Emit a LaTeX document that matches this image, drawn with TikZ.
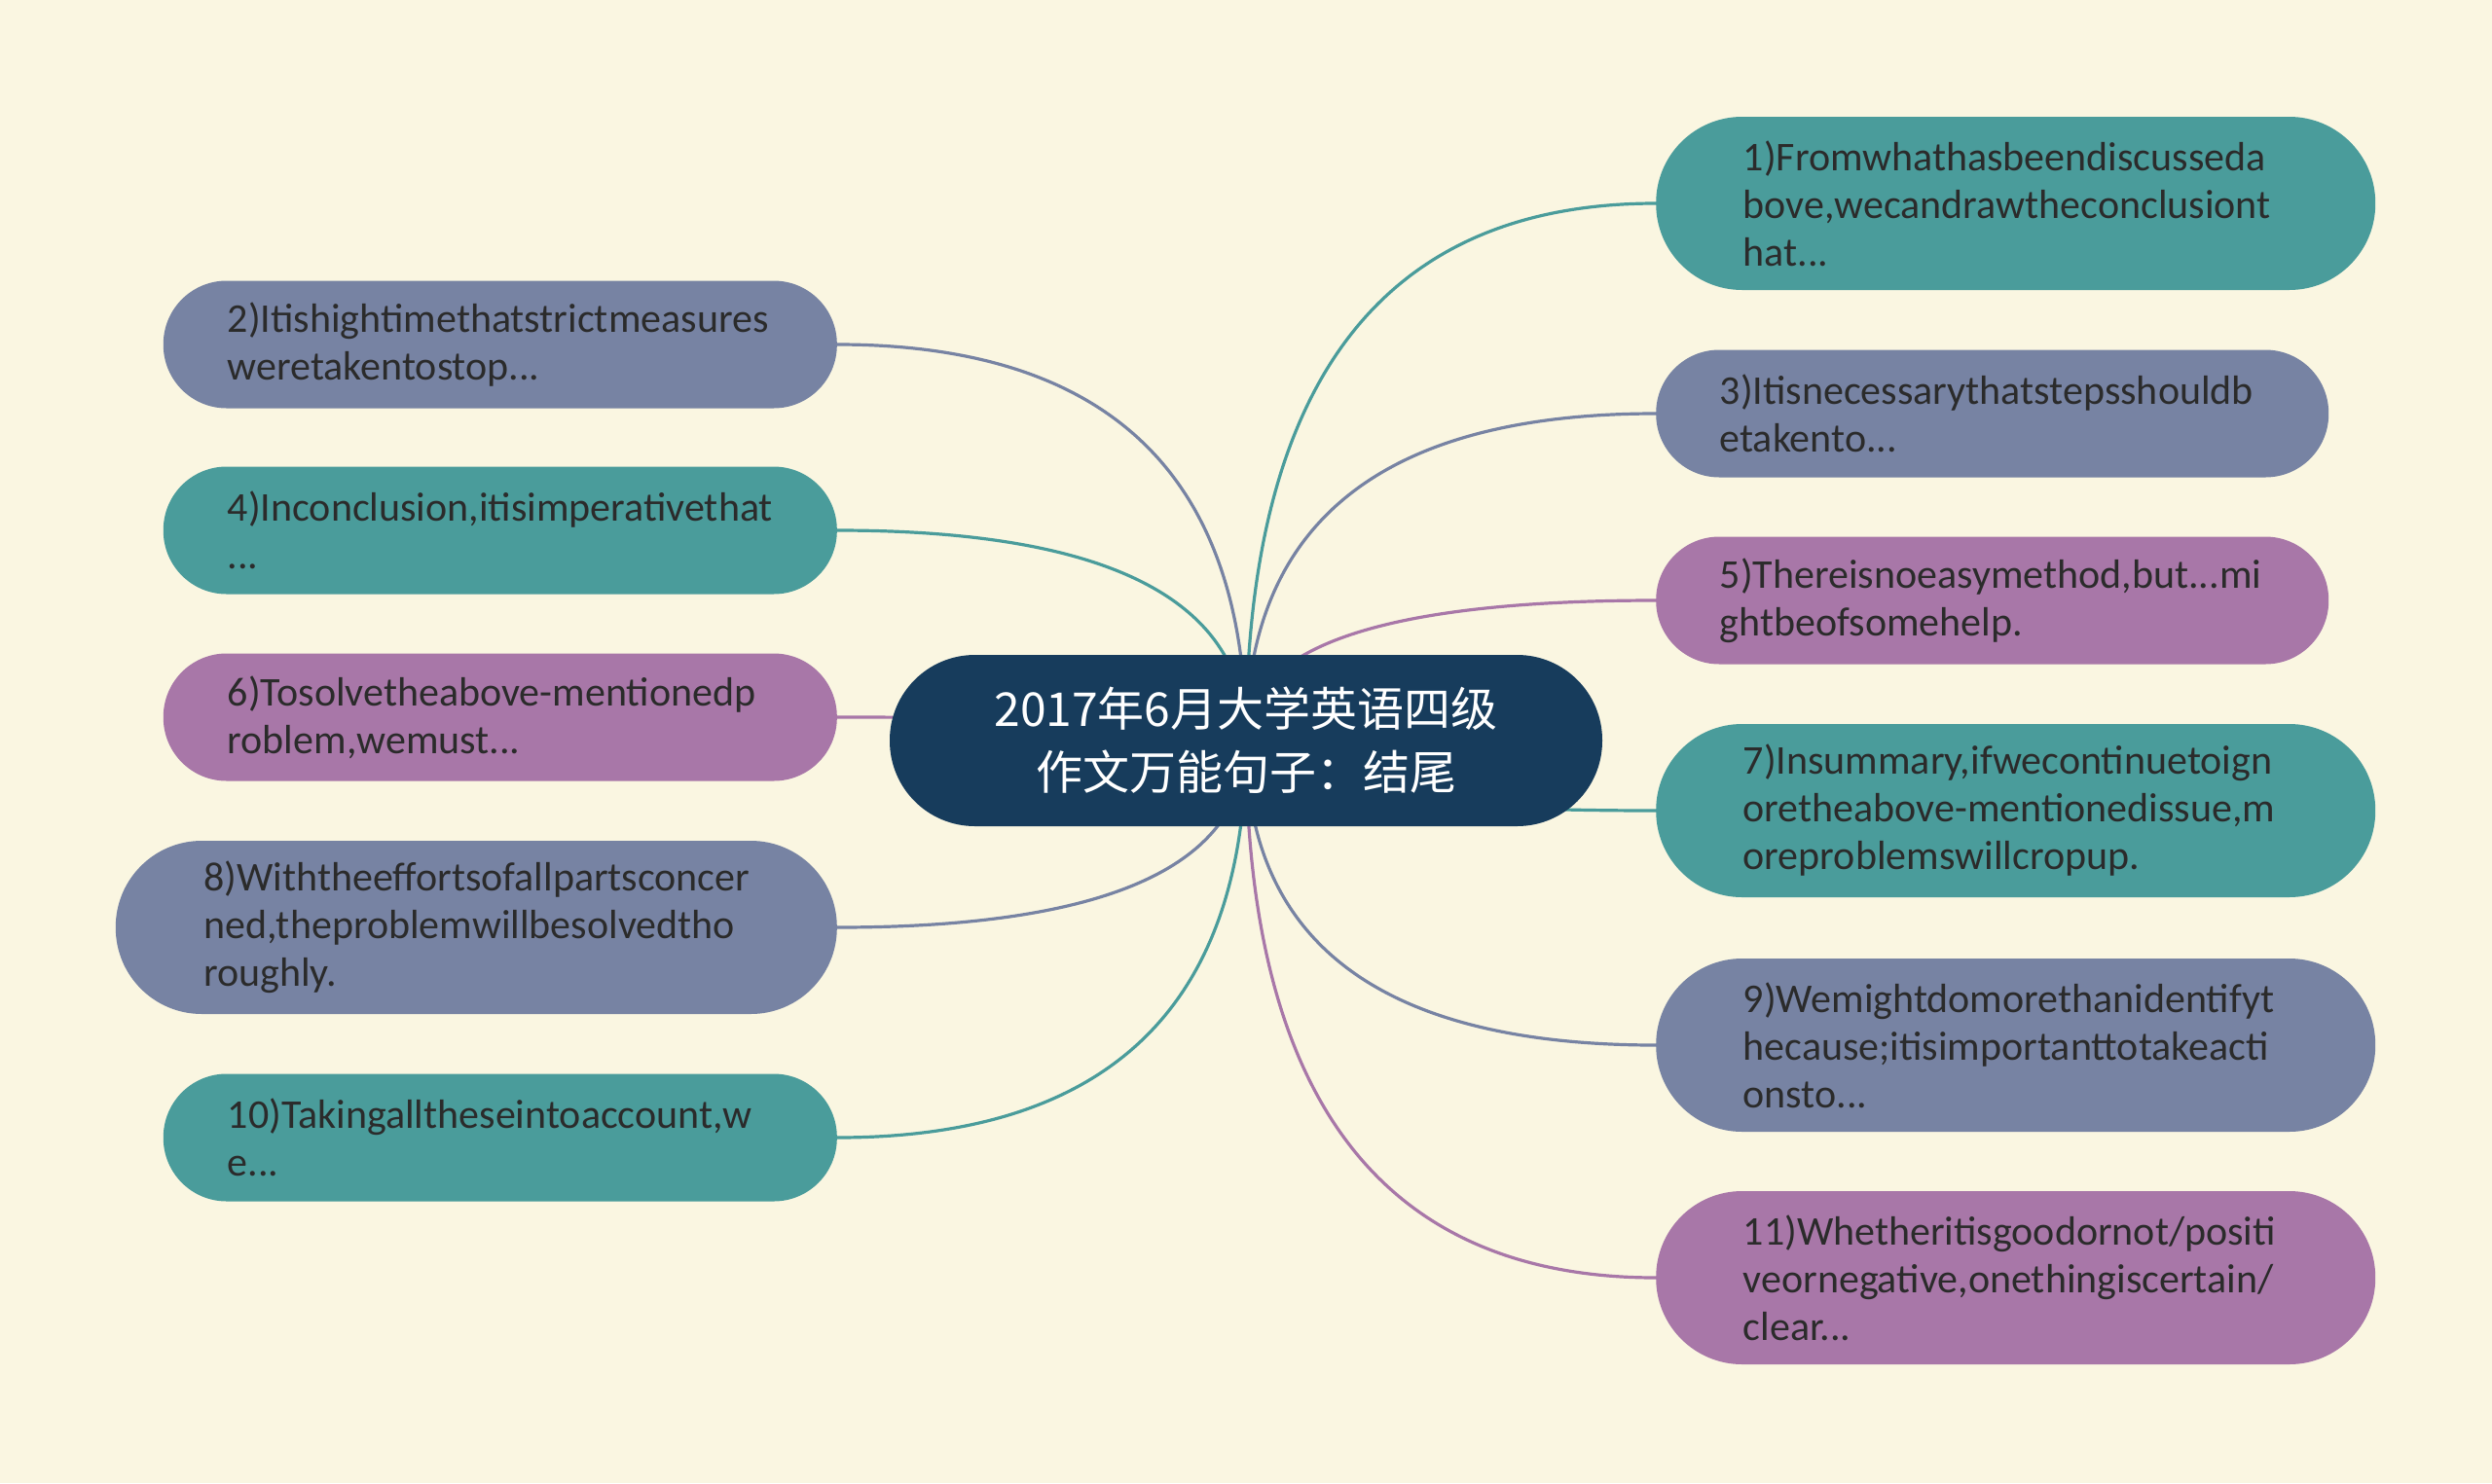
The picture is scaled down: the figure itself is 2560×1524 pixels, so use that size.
\documentclass[tikz,border=0pt]{standalone}
\usepackage{fontspec}
\setmainfont{Carlito}
\newfontfamily\cjkfont{Noto Sans CJK SC}
\usetikzlibrary{calc}
\pgfdeclarelayer{bglayer}
\pgfdeclarelayer{linelayer}
\pgfsetlayers{bglayer,linelayer,main}
\definecolor{bgc}{HTML}{FAF6E1}
\definecolor{tealc}{HTML}{4A9C9B}
\definecolor{slatec}{HTML}{7783A3}
\definecolor{purplec}{HTML}{A877A8}
\definecolor{navyc}{HTML}{173C5C}
\definecolor{txtc}{HTML}{2B2B2B}
\tikzset{
  leaf/.style={rectangle, text width=560pt, align=left, inner xsep=0pt, inner ysep=0pt,
    font=\fontsize{42}{49}\selectfont, text=txtc},
  shortbox/.style={leaf, minimum height=131pt, rounded corners=65pt},
  tallbox/.style={leaf, minimum height=178pt, rounded corners=88.5pt},
  tealbox/.style={fill=tealc},
  slatebox/.style={fill=slatec},
  purplebox/.style={fill=purplec},
  link/.style={line width=3.2pt},
  centerbox/.style={rectangle, fill=navyc, text=white, align=center,
    minimum width=732pt, minimum height=176pt, rounded corners=87.5pt,
    font=\cjkfont\fontsize{48}{65}\selectfont}
}
% quadratic-like curve from node centre to an anchor
\newcommand{\quadlink}[3]{%
  \draw[link, draw=#1] (#2) .. controls ($(#2)!0.667!(#2 |- #3)$) and ($(#3)!0.667!(#2 |- #3)$) .. (#3);}
\begin{document}
\begin{tikzpicture}[x=1pt,y=-1pt]
\begin{pgfonlayer}{bglayer}
\fill[bgc] (0,0) rectangle (2560,1524);
\end{pgfonlayer}
\useasboundingbox (0,0) rectangle (2560,1524);

\node[centerbox] (c) at (1280,761) {2017年6月大学英语四级\\作文万能句子：结尾};

% left side
\node[shortbox, slatebox, minimum width=692pt, anchor=east] (n2) at (860,354)
  {2)Itishightimethatstrictmeasures\\weretakentostop...};
\node[shortbox, tealbox, minimum width=692pt, anchor=east] (n4) at (860,545)
  {4)Inconclusion,itisimperativethat\\...};
\node[shortbox, purplebox, minimum width=692pt, anchor=east] (n6) at (860,737)
  {6)Tosolvetheabove-mentionedp\\roblem,wemust...};
\node[tallbox, slatebox, minimum width=741pt, anchor=east] (n8) at (860,953)
  {8)Withtheeffortsofallpartsconcer\\ned,theproblemwillbesolvedtho\\roughly.};
\node[shortbox, tealbox, minimum width=692pt, anchor=east] (n10) at (860,1169)
  {10)Takingalltheseintoaccount,w\\e...};

% right side
\node[tallbox, tealbox, minimum width=739pt, anchor=west] (n1) at (1701,209)
  {1)Fromwhathasbeendiscusseda\\bove,wecandrawtheconclusiont\\hat...};
\node[shortbox, slatebox, minimum width=691pt, anchor=west] (n3) at (1701,425)
  {3)Itisnecessarythatstepsshouldb\\etakento...};
\node[shortbox, purplebox, minimum width=691pt, anchor=west] (n5) at (1701,617)
  {5)Thereisnoeasymethod,but...mi\\ghtbeofsomehelp.};
\node[tallbox, tealbox, minimum width=739pt, anchor=west] (n7) at (1701,833)
  {7)Insummary,ifwecontinuetoign\\oretheabove-mentionedissue,m\\oreproblemswillcropup.};
\node[tallbox, slatebox, minimum width=739pt, anchor=west] (n9) at (1701,1074)
  {9)Wemightdomorethanidentifyt\\hecause;itisimportanttotakeacti\\onsto...};
\node[tallbox, purplebox, minimum width=739pt, anchor=west] (n11) at (1701,1313)
  {11)Whetheritisgoodornot/positi\\veornegative,onethingiscertain/\\clear...};

\begin{pgfonlayer}{linelayer}
\quadlink{slatec}{c.center}{n2.east}
\quadlink{tealc}{c.center}{n4.east}
\quadlink{purplec}{c.center}{n6.east}
\quadlink{slatec}{c.center}{n8.east}
\quadlink{tealc}{c.center}{n10.east}
\quadlink{tealc}{c.center}{n1.west}
\quadlink{slatec}{c.center}{n3.west}
\quadlink{purplec}{c.center}{n5.west}
\quadlink{tealc}{c.center}{n7.west}
\quadlink{slatec}{c.center}{n9.west}
\quadlink{purplec}{c.center}{n11.west}
\end{pgfonlayer}
\end{tikzpicture}
\end{document}
